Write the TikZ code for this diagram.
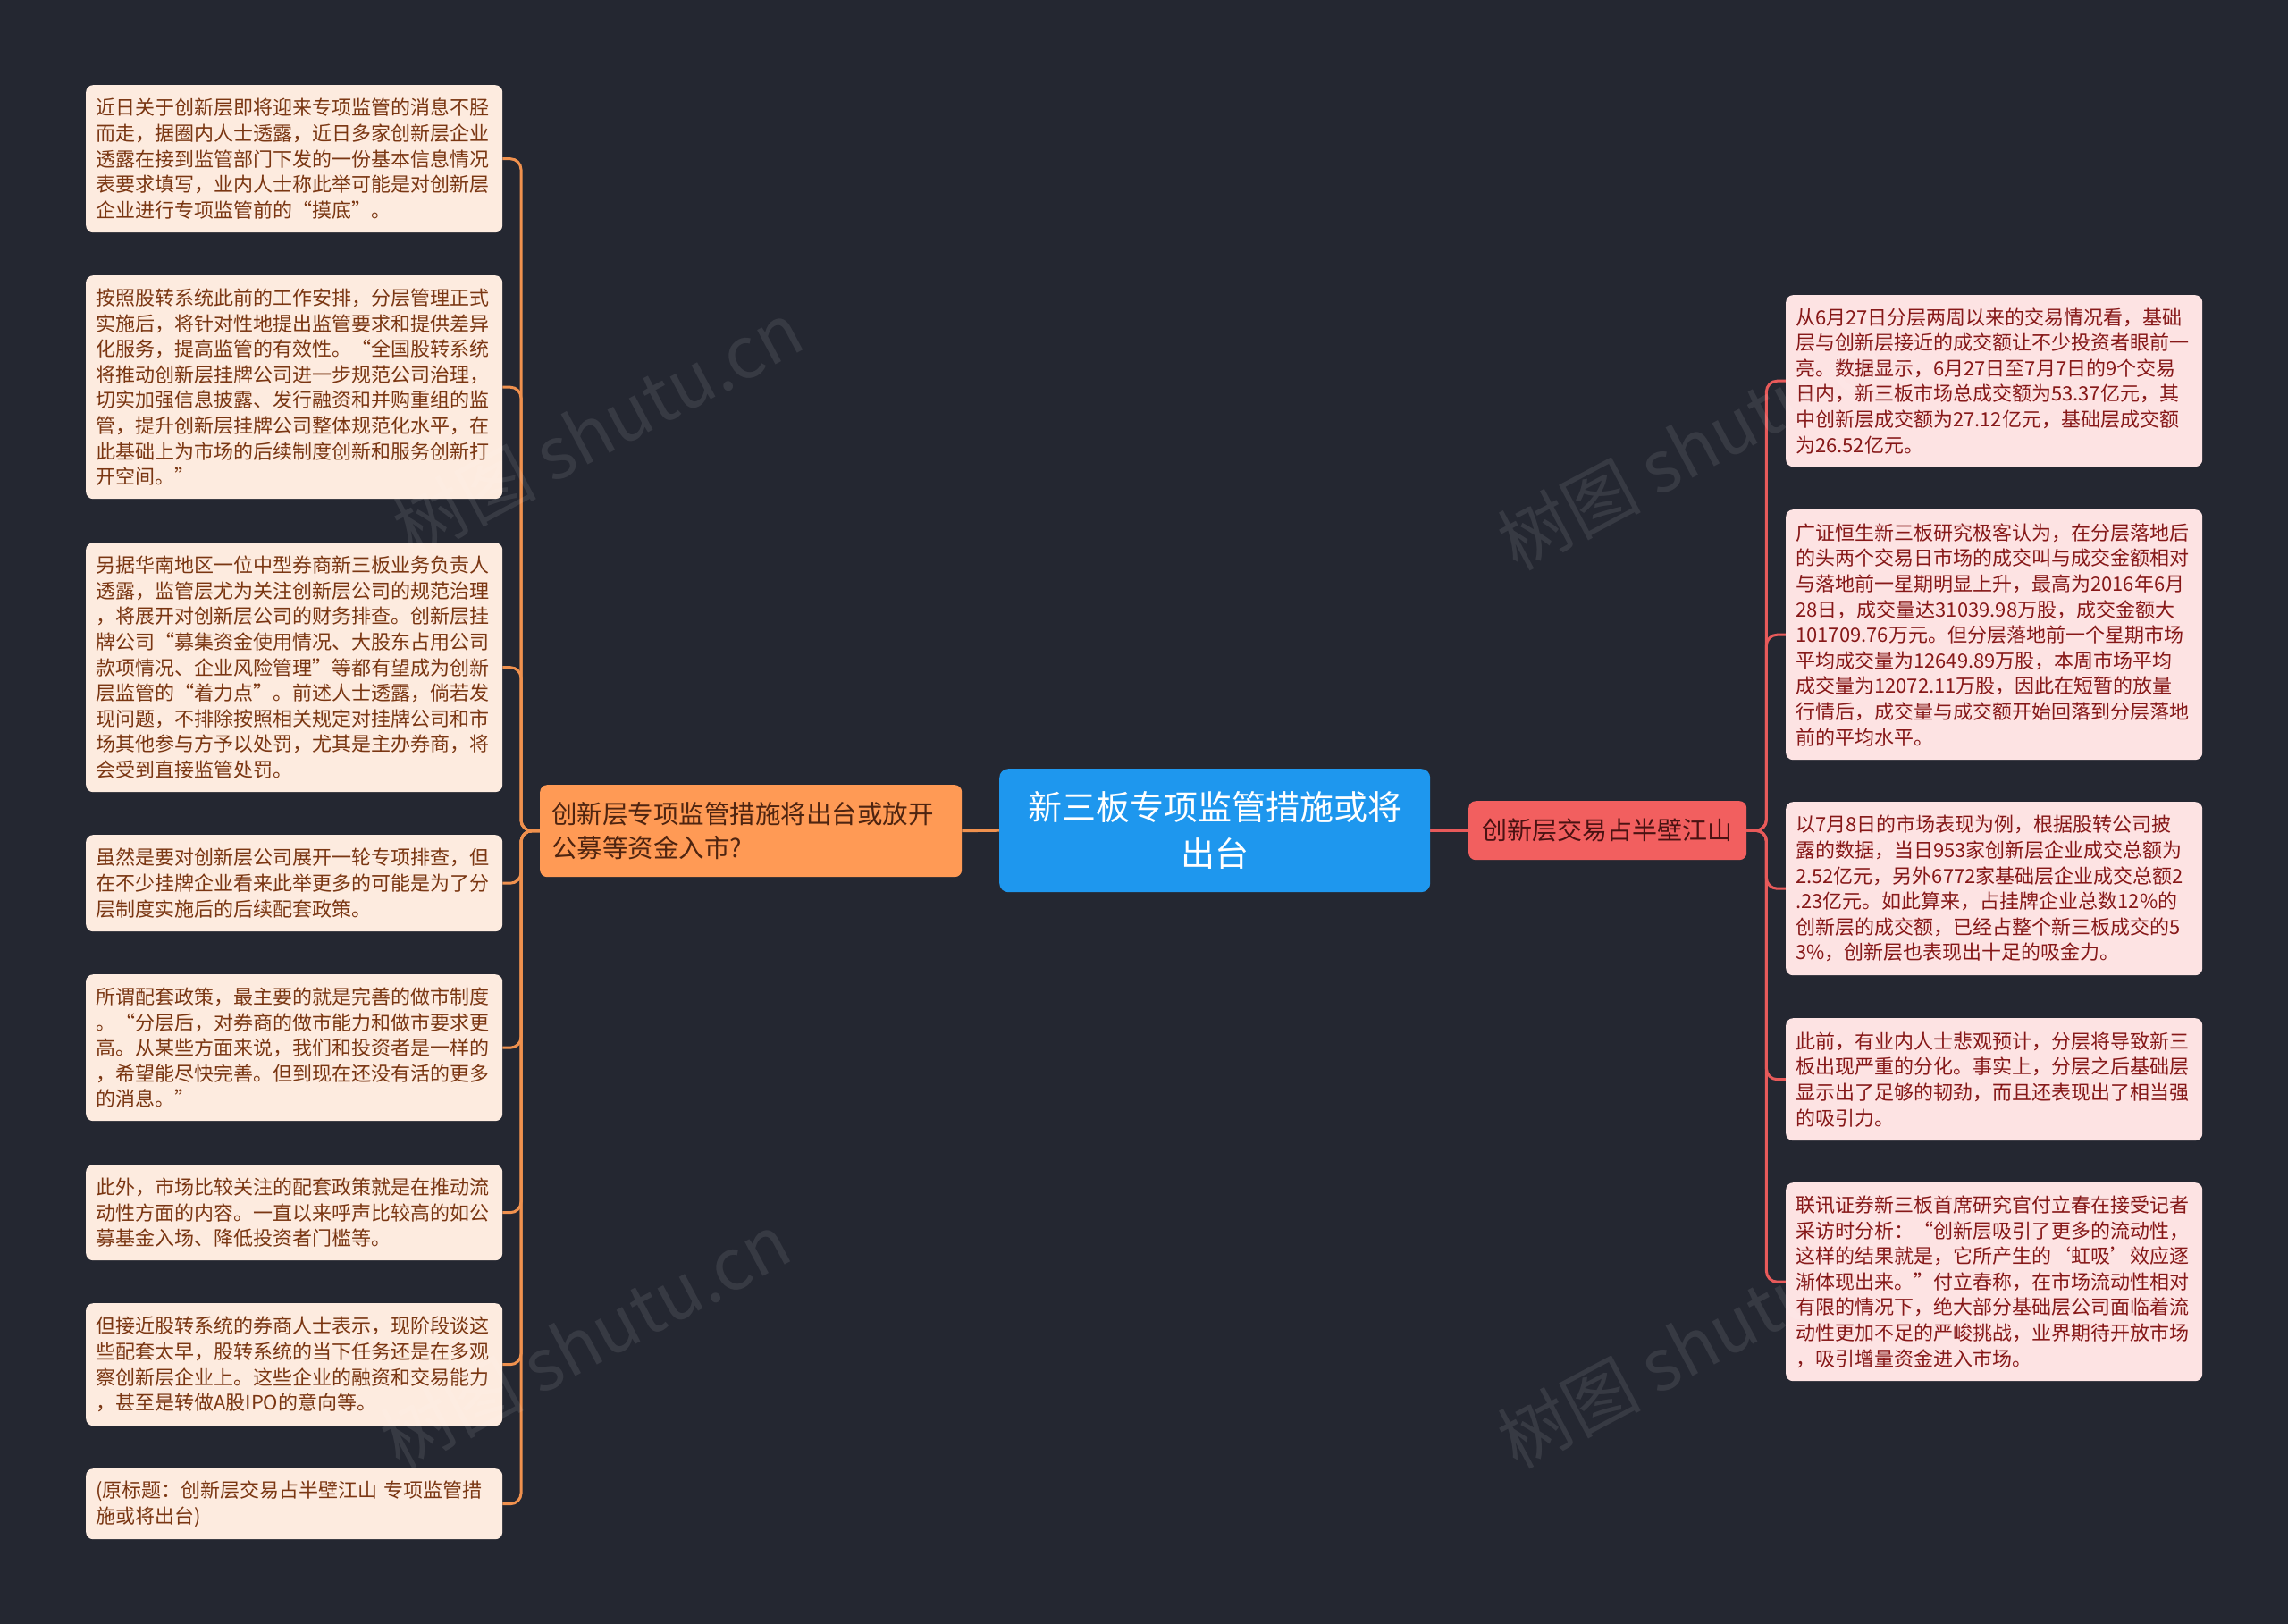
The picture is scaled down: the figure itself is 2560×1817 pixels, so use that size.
\documentclass[tikz,border=0pt]{standalone}
\usepackage{fontspec}
\setmainfont{Noto Sans CJK SC}
\usetikzlibrary{backgrounds,calc}
\definecolor{bg}{HTML}{242731}
\definecolor{cblue}{HTML}{1E97EE}
\definecolor{corange}{HTML}{FF9A55}
\definecolor{otext}{HTML}{4E2410}
\definecolor{cred}{HTML}{F25F5F}
\definecolor{redtext}{HTML}{4A1212}
\definecolor{lfill}{HTML}{FDEBDF}
\definecolor{ltext}{HTML}{7A3612}
\definecolor{lline}{HTML}{F0914E}
\definecolor{rfill}{HTML}{FDE3E3}
\definecolor{rtext}{HTML}{861818}
\definecolor{rline}{HTML}{E85A5A}
\tikzset{
  leafbase/.style={anchor=north west, rounded corners=8pt, text width=444pt, inner xsep=11pt, inner ysep=0pt, align=left, font={\fontsize{22pt}{28.6pt}\selectfont}},
  lleaf/.style={leafbase, fill=lfill, text=ltext},
  rleaf/.style={leafbase, fill=rfill, text=rtext},
  lconn/.style={draw=lline, line width=3pt, rounded corners=12pt},
  rconn/.style={draw=rline, line width=3pt, rounded corners=12pt},
  wm/.style={text=white, opacity=0.09, rotate=28, font={\fontsize{80pt}{80pt}\selectfont}}
}
\begin{document}
\begin{tikzpicture}[x=1pt,y=-1pt]
\useasboundingbox (0,0) rectangle (2560,1817);

% central node
\node[anchor=north west, fill=cblue, text=white, rounded corners=10pt, minimum width=482pt, minimum height=138pt, inner sep=0pt, align=center, font={\fontsize{38pt}{52pt}\selectfont}] (c) at (1118,860) {新三板专项监管措施或将\\出台};

% main branches
\node[anchor=north west, fill=corange, text=otext, rounded corners=8pt, text width=446pt, inner xsep=13pt, minimum height=103pt, inner ysep=0pt, align=left, font={\fontsize{28.5pt}{37.5pt}\selectfont}] (o) at (604,878) {创新层专项监管措施将出台或放开\\公募等资金入市?};
\node[anchor=north west, fill=cred, text=redtext, rounded corners=8pt, minimum width=311pt, minimum height=66pt, inner sep=0pt, align=center, font={\fontsize{28pt}{34pt}\selectfont}] (r) at (1643,896) {创新层交易占半壁江山};

% left leaves
\node[lleaf, minimum height=165pt] (l1) at (96,95) {近日关于创新层即将迎来专项监管的消息不胫\\
而走，据圈内人士透露，近日多家创新层企业\\
透露在接到监管部门下发的一份基本信息情况\\
表要求填写，业内人士称此举可能是对创新层\\
企业进行专项监管前的“摸底”。};
\node[lleaf, minimum height=250pt] (l2) at (96,308) {按照股转系统此前的工作安排，分层管理正式\\
实施后，将针对性地提出监管要求和提供差异\\
化服务，提高监管的有效性。“全国股转系统\\
将推动创新层挂牌公司进一步规范公司治理，\\
切实加强信息披露、发行融资和并购重组的监\\
管，提升创新层挂牌公司整体规范化水平，在\\
此基础上为市场的后续制度创新和服务创新打\\
开空间。”};
\node[lleaf, minimum height=279pt] (l3) at (96,607) {另据华南地区一位中型券商新三板业务负责人\\
透露，监管层尤为关注创新层公司的规范治理\\
，将展开对创新层公司的财务排查。创新层挂\\
牌公司“募集资金使用情况、大股东占用公司\\
款项情况、企业风险管理”等都有望成为创新\\
层监管的“着力点”。前述人士透露，倘若发\\
现问题，不排除按照相关规定对挂牌公司和市\\
场其他参与方予以处罚，尤其是主办券商，将\\
会受到直接监管处罚。};
\node[lleaf, minimum height=108pt] (l4) at (96,934) {虽然是要对创新层公司展开一轮专项排查，但\\
在不少挂牌企业看来此举更多的可能是为了分\\
层制度实施后的后续配套政策。};
\node[lleaf, minimum height=164pt] (l5) at (96,1090) {所谓配套政策，最主要的就是完善的做市制度\\
。“分层后，对券商的做市能力和做市要求更\\
高。从某些方面来说，我们和投资者是一样的\\
，希望能尽快完善。但到现在还没有活的更多\\
的消息。”};
\node[lleaf, minimum height=107pt] (l6) at (96,1303) {此外，市场比较关注的配套政策就是在推动流\\
动性方面的内容。一直以来呼声比较高的如公\\
募基金入场、降低投资者门槛等。};
\node[lleaf, minimum height=137pt] (l7) at (96,1458) {但接近股转系统的券商人士表示，现阶段谈这\\
些配套太早，股转系统的当下任务还是在多观\\
察创新层企业上。这些企业的融资和交易能力\\
，甚至是转做A股IPO的意向等。};
\node[lleaf, minimum height=79pt] (l8) at (96,1643) {(原标题：创新层交易占半壁江山 专项监管措\\
施或将出台)};

% right leaves
\node[rleaf, minimum height=192pt] (r1) at (1998,330) {从6月27日分层两周以来的交易情况看，基础\\
层与创新层接近的成交额让不少投资者眼前一\\
亮。数据显示，6月27日至7月7日的9个交易\\
日内，新三板市场总成交额为53.37亿元，其\\
中创新层成交额为27.12亿元，基础层成交额\\
为26.52亿元。};
\node[rleaf, minimum height=280pt] (r2) at (1998,570) {广证恒生新三板研究极客认为，在分层落地后\\
的头两个交易日市场的成交叫与成交金额相对\\
与落地前一星期明显上升，最高为2016年6月\\
28日，成交量达31039.98万股，成交金额大\\
101709.76万元。但分层落地前一个星期市场\\
平均成交量为12649.89万股，本周市场平均\\
成交量为12072.11万股，因此在短暂的放量\\
行情后，成交量与成交额开始回落到分层落地\\
前的平均水平。};
\node[rleaf, minimum height=194pt] (r3) at (1998,897) {以7月8日的市场表现为例，根据股转公司披\\
露的数据，当日953家创新层企业成交总额为\\
2.52亿元，另外6772家基础层企业成交总额2\\
.23亿元。如此算来，占挂牌企业总数12\%的\\
创新层的成交额，已经占整个新三板成交的5\\
3\%，创新层也表现出十足的吸金力。};
\node[rleaf, minimum height=137pt] (r4) at (1998,1139) {此前，有业内人士悲观预计，分层将导致新三\\
板出现严重的分化。事实上，分层之后基础层\\
显示出了足够的韧劲，而且还表现出了相当强\\
的吸引力。};
\node[rleaf, minimum height=222pt] (r5) at (1998,1323) {联讯证券新三板首席研究官付立春在接受记者\\
采访时分析：“创新层吸引了更多的流动性，\\
这样的结果就是，它所产生的‘虹吸’效应逐\\
渐体现出来。”付立春称，在市场流动性相对\\
有限的情况下，绝大部分基础层公司面临着流\\
动性更加不足的严峻挑战，业界期待开放市场\\
，吸引增量资金进入市场。};

% watermarks
\node[wm] (w1) at (669,480) {树图 shutu.cn};
\node[wm] (w2) at (1905,495) {树图 shutu.cn};
\node[wm] (w3) at (655,1500) {树图 shutu.cn};
\node[wm] (w4) at (1905,1500) {树图 shutu.cn};

\begin{pgfonlayer}{background}
\fill[bg] (0,0) rectangle (2560,1817);
\coordinate (lb) at ($(o.west)+(-21,0)$);
\coordinate (rb) at ($(r.east)+(22,0)$);
\draw[lconn] (c.west) -- (o.east);
\draw[rconn] (c.east) -- (r.west);
\foreach \n in {l1,l2,l3,l4,l5,l6,l7,l8} {
  \draw[lconn] (o.west) -- (lb) |- (\n.east);
}
\foreach \n in {r1,r2,r3,r4,r5} {
  \draw[rconn] (r.east) -- (rb) |- (\n.west);
}
\end{pgfonlayer}
\end{tikzpicture}
\end{document}
